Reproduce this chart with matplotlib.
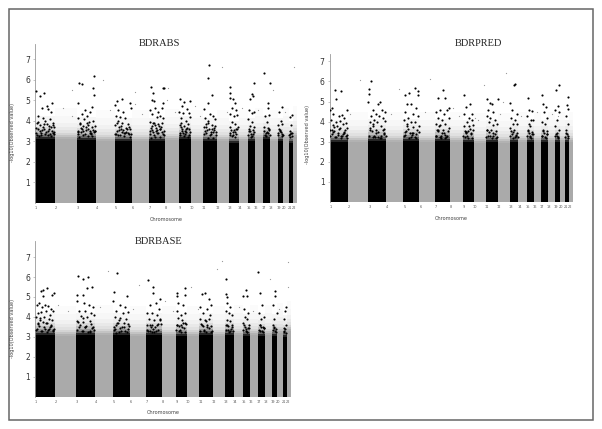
import matplotlib
matplotlib.use('Agg')
import matplotlib.pyplot as plt
from matplotlib.patches import Rectangle

W, H = 602, 429

# chromosome widths
chrom_len = [60, 66, 57, 56, 52, 51, 47, 43, 35, 38, 40, 38, 28, 27, 22, 25, 21, 22, 16, 17, 13, 12]
chrom_names = [str(i) for i in range(1, 23)]
y_ticks = [1, 2, 3, 4, 5, 6, 7]

# height of the solid part of each chromosome
abs_solid = [3.1, 3.1, 3.05, 3.0, 3.0, 3.0, 3.0, 3.05, 3.1, 3.0, 3.0, 3.0, 2.9, 3.0, 3.0, 3.1, 3.1, 3.0, 3.0, 3.1, 2.9, 3.2]
pred_solid = [3.0, 3.0, 3.05, 3.0, 3.05, 3.0, 3.05, 3.0, 3.0, 2.95, 3.0, 2.95, 3.0, 3.0, 3.0, 3.0, 3.0, 3.0, 3.0, 3.0, 3.0, 3.0]
base_solid = [3.1, 3.05, 3.1, 3.1, 3.1, 3.05, 3.1, 3.05, 3.05, 3.05, 3.1, 3.05, 3.1, 3.1, 3.05, 3.1, 3.05, 3.1, 3.05, 3.2, 3.0, 3.3]

abs_x = [2, 15, 28, 20, 35, 40, 52, 48, 10, 25, 30, 45, 5, 15, 35, 55, 8, 22, 42, 50, 58, 18, 30, 3, 38, 47, 56, 12,
         131, 141, 178, 175, 178, 130, 150, 165, 172, 140, 155, 130, 148, 162, 175, 135, 145, 158, 170, 180, 128, 138, 152, 165, 176, 145, 160, 132, 172,
         245, 262, 240, 285, 288, 250, 265, 243, 255, 270, 248, 262, 280, 240, 252, 272, 286, 245, 260, 278, 250, 268, 285,
         349, 354, 350, 358, 385, 360, 345, 368, 380, 352, 365, 375, 385, 346, 358, 370, 382, 350, 362, 378, 345, 355, 370, 386, 360, 375, 348, 385, 388,
         436, 448, 465, 442, 455, 433, 445, 462, 438, 452, 464, 434, 447, 458, 440, 452, 463, 435, 448, 460,
         522, 520, 530, 518, 508, 525, 535, 510, 520, 540, 514, 530, 506, 522, 538, 512, 528, 543, 518, 535,
         585, 584, 586, 594, 600, 590, 602, 585, 596, 606, 590, 600, 586, 604, 593, 584, 600,
         650, 655, 646, 642, 652, 658, 640, 650, 645, 656, 641, 653, 647, 658,
         686, 705, 698, 700, 690, 702, 695, 688, 700, 692, 704,
         740, 732, 738, 730, 742, 735, 730, 741,
         772, 765, 768, 764, 771, 766,
         # denser part just above the solid block
         6, 14, 24, 33, 43, 53, 4, 19, 28, 38, 49, 58, 10, 26, 44, 54,
         129, 137, 149, 159, 169, 179, 134, 144, 154, 164, 174, 128, 141, 156, 168, 181,
         243, 251, 259, 267, 275, 283, 247, 256, 264, 274, 282, 241, 258, 270, 288,
         344, 352, 360, 367, 374, 383, 348, 357, 365, 372, 380, 387, 354, 363, 376,
         434, 441, 449, 456, 464, 437, 445, 453, 461, 439, 450,
         507, 515, 524, 532, 541, 510, 519, 527, 536, 544, 513, 533,
         585, 591, 597, 603, 609, 588, 595, 601, 607,
         640, 646, 651, 657, 643, 649, 655,
         687, 693, 698, 703, 690, 696, 701,
         730, 735, 740, 733, 738, 743,
         763, 768, 772, 766]
abs_y = [5.45, 5.2, 5.35, 4.6, 4.7, 4.55, 4.85, 4.4, 4.2, 4.1, 4.0, 4.05, 3.9, 3.8, 3.85, 3.9, 3.6, 3.55, 3.6, 3.5, 3.7, 3.4, 3.35, 3.4, 3.3, 3.25, 3.35, 3.25,
         5.85, 5.78, 6.15, 5.6, 5.25, 4.85, 4.5, 4.4, 4.65, 4.3, 4.2, 4.1, 4.05, 3.95, 4.0, 3.85, 3.75, 3.8, 3.7, 3.75, 3.5, 3.45, 3.55, 3.5, 3.45, 3.3, 3.25, 3.2, 3.25,
         4.95, 5.05, 4.75, 4.85, 4.6, 4.5, 4.4, 4.2, 4.15, 4.1, 4.0, 3.9, 3.85, 3.8, 3.7, 3.65, 3.6, 3.5, 3.45, 3.4, 3.3, 3.25, 3.2,
         5.65, 5.35, 5.0, 4.95, 4.85, 4.6, 4.5, 4.4, 4.6, 4.3, 4.15, 4.2, 4.1, 3.95, 3.9, 3.85, 3.9, 3.75, 3.65, 3.7, 3.5, 3.45, 3.4, 3.5, 3.2, 3.2, 3.15, 5.57, 5.57,
         5.05, 4.9, 4.95, 4.7, 4.55, 4.4, 4.35, 4.35, 4.1, 4.0, 4.15, 3.8, 3.75, 3.85, 3.5, 3.45, 3.6, 3.3, 3.25, 3.2,
         6.7, 6.05, 5.25, 4.85, 4.55, 4.3, 4.2, 4.1, 4.0, 4.05, 3.85, 3.8, 3.7, 3.6, 3.55, 3.4, 3.35, 3.45, 3.15, 3.15,
         5.65, 5.35, 5.1, 5.05, 4.85, 4.6, 4.5, 4.3, 4.2, 4.25, 3.95, 3.85, 3.7, 3.6, 3.45, 3.3, 3.2,
         5.3, 5.2, 5.05, 4.5, 4.35, 4.4, 4.05, 3.95, 3.75, 3.7, 3.5, 3.35, 3.2, 5.85,
         6.3, 5.82, 4.85, 4.6, 4.2, 4.25, 3.95, 3.7, 3.65, 3.4, 3.3,
         4.65, 4.4, 4.0, 3.8, 3.85, 3.5, 3.3, 3.25,
         4.25, 4.15, 3.8, 3.5, 3.4, 3.2,
         3.3, 3.5, 3.7, 3.45, 3.75, 3.4, 3.65, 3.3, 3.85, 3.5, 3.7, 3.45, 3.95, 3.6, 3.35, 3.8,
         3.45, 3.65, 3.35, 3.6, 3.4, 3.5, 3.9, 3.5, 3.7, 3.4, 3.55, 3.35, 3.6, 3.9, 3.35, 3.5,
         3.35, 3.55, 3.75, 3.4, 3.6, 3.35, 3.9, 3.3, 3.55, 3.45, 3.7, 3.35, 3.6, 3.4, 3.35,
         3.35, 3.55, 3.8, 3.4, 3.6, 3.35, 3.65, 3.3, 3.55, 3.75, 3.45, 3.3, 3.9, 3.5, 3.6,
         3.4, 3.6, 3.35, 3.65, 3.45, 3.7, 3.4, 3.6, 3.3, 3.9, 3.5,
         3.35, 3.55, 3.3, 3.6, 3.75, 3.5, 3.9, 3.45, 3.65, 3.3, 3.7, 3.45,
         3.4, 3.25, 3.55, 3.35, 3.7, 3.55, 3.3, 3.45, 3.6,
         3.3, 3.5, 3.25, 3.45, 3.6, 3.35, 3.55,
         3.5, 3.25, 3.4, 3.55, 3.3, 3.45, 3.6,
         3.4, 3.55, 3.35, 3.6, 3.45, 3.3,
         3.3, 3.4, 3.25, 3.35]
abs_gray_x = [85, 110, 205, 225, 300, 320, 395, 420, 480, 495, 560, 575, 620, 670, 715, 778, 750, 110, 300, 400]
abs_gray_y = [4.6, 4.2, 6.0, 4.5, 4.8, 4.3, 5.0, 4.4, 4.7, 4.2, 6.6, 4.4, 4.6, 4.5, 5.5, 6.6, 4.4, 5.5, 5.4, 5.6]

pred_x = [18, 22, 37, 2, 8, 56, 40, 12, 30, 48, 5, 20, 35, 52, 10, 25, 44, 58, 3, 15, 32, 50, 8, 28, 42, 55,
          128, 128, 126, 135, 164, 158, 140, 170, 150, 180, 135, 160, 172, 145, 130, 155, 178, 140, 165, 132, 150, 175, 145, 168,
          275, 244, 257, 285, 287, 250, 265, 280, 245, 270, 255, 285, 242, 262, 278, 250, 270, 288, 245, 260, 280,
          366, 352, 372, 385, 358, 345, 370, 380, 350, 365, 388, 346, 358, 375, 350, 368, 385, 345, 360, 378,
          434, 455, 440, 462, 436, 450, 445, 460, 435, 452, 464, 440, 448, 458, 437,
          508, 519, 524, 544, 512, 530, 508, 520, 535, 515, 528, 542, 508, 522, 538, 512, 530,
          598, 600, 584, 590, 605, 587, 600, 592, 607, 585, 598, 590, 603,
          643, 646, 655, 640, 652, 658, 645, 650, 642, 655, 648,
          686, 690, 700, 695, 703, 688, 698, 692, 704, 688,
          743, 734, 738, 730, 742, 735, 730, 741, 736,
          773, 767, 770, 764, 772, 766, 770,
          # denser part just above the solid block
          3, 12, 22, 33, 43, 53, 7, 17, 27, 38, 48, 58, 14, 36, 46,
          128, 137, 147, 157, 167, 177, 132, 142, 152, 162, 172, 182, 140, 158, 176,
          241, 249, 258, 266, 275, 284, 245, 254, 262, 271, 280, 289, 250, 268,
          344, 352, 361, 370, 379, 348, 356, 365, 374, 384, 354, 372,
          433, 441, 449, 457, 464, 437, 445, 453, 461, 443,
          507, 516, 525, 534, 543, 511, 520, 529, 539,
          585, 592, 599, 606, 588, 595, 602, 609,
          640, 646, 652, 658, 643, 649, 655,
          687, 693, 699, 704, 690, 696, 702,
          730, 735, 740, 733, 738,
          763, 768, 772, 765]
pred_y = [5.55, 5.1, 5.5, 4.6, 4.7, 4.6, 4.35, 4.4, 4.3, 4.2, 4.1, 4.0, 4.05, 3.95, 3.85, 3.8, 3.9, 3.7, 3.6, 3.55, 3.65, 3.6, 3.4, 3.35, 3.3, 3.2,
          5.6, 5.35, 5.0, 6.0, 5.0, 4.9, 4.6, 4.6, 4.4, 4.5, 4.3, 4.3, 4.2, 4.1, 4.0, 4.0, 4.05, 3.8, 3.8, 3.6, 3.6, 3.65, 3.3, 3.3,
          5.65, 5.3, 5.4, 5.5, 5.3, 4.9, 4.9, 4.7, 4.5, 4.4, 4.2, 4.3, 4.1, 4.0, 4.0, 3.8, 3.75, 3.8, 3.5, 3.45, 3.4,
          5.55, 5.15, 5.15, 4.7, 4.6, 4.5, 4.4, 4.6, 4.2, 4.1, 4.2, 3.9, 3.85, 3.9, 3.6, 3.6, 3.7, 3.3, 3.3, 3.25,
          5.3, 4.9, 4.75, 4.4, 4.4, 4.2, 4.0, 4.1, 3.8, 3.8, 3.85, 3.5, 3.55, 3.45, 3.25,
          5.1, 4.95, 4.9, 5.1, 4.6, 4.5, 4.3, 4.2, 4.1, 4.0, 3.85, 3.9, 3.6, 3.6, 3.55, 3.3, 3.3,
          5.8, 5.85, 4.95, 4.6, 4.4, 4.2, 4.1, 3.9, 3.9, 3.7, 3.6, 3.4, 3.3,
          5.15, 4.6, 4.55, 4.3, 4.1, 4.1, 3.9, 3.8, 3.6, 3.5, 3.3,
          5.3, 4.9, 4.75, 4.5, 4.2, 4.0, 3.9, 3.6, 3.55, 3.3,
          5.8, 5.55, 4.8, 4.6, 4.5, 4.1, 3.8, 3.6, 3.3,
          5.2, 4.85, 4.65, 4.3, 3.9, 3.6, 3.3,
          3.3, 3.5, 3.25, 3.7, 3.4, 3.3, 3.6, 3.25, 3.45, 3.3, 3.5, 3.35, 3.75, 3.2, 3.45,
          3.3, 3.55, 3.25, 3.5, 3.2, 3.45, 3.7, 3.25, 3.45, 3.2, 3.6, 3.3, 3.9, 3.25, 3.4,
          3.3, 3.55, 3.2, 3.45, 3.25, 3.6, 3.35, 3.65, 3.25, 3.45, 3.2, 3.5, 3.9, 3.35,
          3.3, 3.55, 3.2, 3.45, 3.3, 3.6, 3.25, 3.45, 3.2, 3.55, 3.8, 3.35,
          3.3, 3.5, 3.2, 3.4, 3.6, 3.55, 3.3, 3.65, 3.2, 3.45,
          3.25, 3.5, 3.2, 3.4, 3.25, 3.6, 3.3, 3.45, 3.2,
          3.3, 3.5, 3.25, 3.45, 3.55, 3.2, 3.35, 3.25,
          3.3, 3.45, 3.2, 3.4, 3.55, 3.25, 3.4,
          3.3, 3.45, 3.2, 3.4, 3.55, 3.25, 3.4,
          3.3, 3.45, 3.2, 3.4, 3.25,
          3.25, 3.4, 3.2, 3.45]
pred_gray_x = [65, 100, 200, 225, 310, 325, 400, 420, 470, 500, 550, 570, 620, 670, 720, 740, 480, 560]
pred_gray_y = [4.4, 6.05, 4.4, 5.6, 4.5, 6.1, 4.7, 4.3, 4.2, 5.8, 4.4, 6.4, 4.3, 4.5, 4.4, 4.3, 4.1, 5.0]

base_x = [38, 17, 25, 58, 51, 26, 5, 12, 22, 30, 40, 48, 55, 8, 18, 35, 45, 3, 15, 28, 42, 52, 10, 25, 38, 50, 6, 32, 56,
          131, 148, 162, 174, 161, 128, 147, 130, 150, 165, 178, 135, 155, 172, 140, 160, 180, 128, 148, 168, 135, 155, 175,
          251, 242, 281, 240, 260, 275, 250, 270, 285, 245, 262, 280, 252, 272, 242, 262, 285, 250,
          348, 361, 361, 384, 352, 370, 380, 345, 358, 375, 350, 365, 385, 345, 360, 378, 352, 370,
          435, 460, 437, 460, 440, 455, 436, 448, 462, 440, 452, 435, 447, 460, 442,
          512, 522, 535, 539, 508, 528, 515, 538, 508, 522, 535, 512, 528, 540, 518,
          585, 586, 590, 588, 600, 585, 596, 606, 590, 600, 586, 604, 593,
          647, 639, 652, 642, 655, 645, 650, 640, 656, 648, 652,
          685, 692, 698, 688, 702, 695, 690, 700, 692,
          737, 737, 730, 742, 735, 730, 741,
          770, 767, 765, 770, 766,
          # denser part just above the solid block
          4, 13, 23, 34, 44, 54, 8, 18, 29, 39, 49, 59, 16, 36, 46,
          129, 138, 148, 158, 168, 178, 133, 143, 153, 163, 173, 182, 146, 170,
          242, 250, 259, 267, 276, 285, 246, 255, 263, 272, 281, 289, 257,
          344, 352, 360, 369, 378, 387, 347, 356, 365, 374, 383, 362,
          433, 441, 449, 457, 465, 437, 445, 453, 461, 451,
          507, 516, 525, 534, 543, 511, 520, 529, 539, 526,
          585, 592, 599, 606, 588, 595, 602, 609,
          640, 646, 652, 658, 643, 649, 655,
          687, 693, 699, 704, 690, 696, 702,
          730, 735, 740, 733, 738,
          763, 768, 772, 765]
base_y = [5.45, 5.3, 5.35, 5.2, 5.1, 5.05, 4.6, 4.7, 4.5, 4.6, 4.55, 4.4, 4.3, 4.2, 4.25, 4.3, 4.1, 4.0, 3.95, 4.0, 3.9, 3.85, 3.7, 3.75, 3.7, 3.6, 3.4, 3.4, 3.3,
          6.05, 5.9, 6.0, 5.5, 5.45, 5.1, 5.1, 4.8, 4.7, 4.6, 4.5, 4.3, 4.3, 4.2, 4.05, 4.0, 4.1, 3.8, 3.75, 3.8, 3.5, 3.5, 3.45,
          6.2, 5.25, 5.05, 4.8, 4.6, 4.5, 4.3, 4.2, 4.25, 4.0, 3.95, 3.9, 3.7, 3.7, 3.5, 3.45, 3.4, 3.2,
          5.85, 5.5, 5.2, 4.9, 4.6, 4.7, 4.4, 4.2, 4.2, 4.1, 3.9, 3.85, 3.9, 3.6, 3.6, 3.65, 3.3, 3.3,
          5.2, 5.45, 5.05, 5.1, 4.7, 4.6, 4.3, 4.1, 4.2, 3.95, 3.85, 3.6, 3.6, 3.7, 3.3,
          5.15, 5.2, 4.9, 4.6, 4.5, 4.4, 4.2, 4.1, 3.9, 3.85, 3.9, 3.6, 3.6, 3.55, 3.3,
          5.9, 5.15, 5.0, 4.7, 4.5, 4.3, 4.2, 4.1, 3.85, 3.8, 3.6, 3.6, 3.35,
          5.35, 5.05, 5.05, 4.4, 4.2, 4.0, 3.9, 3.7, 3.6, 3.4, 3.25,
          6.25, 5.2, 4.6, 4.2, 4.0, 3.9, 3.6, 3.5, 3.3,
          5.3, 5.05, 4.6, 4.2, 3.9, 3.6, 3.4,
          4.5, 4.3, 3.9, 3.6, 3.3,
          3.35, 3.55, 3.3, 3.7, 3.4, 3.35, 3.65, 3.3, 3.5, 3.35, 3.55, 3.4, 3.85, 3.25, 3.5,
          3.35, 3.6, 3.3, 3.55, 3.25, 3.5, 3.75, 3.3, 3.5, 3.25, 3.65, 3.35, 3.95, 3.3,
          3.35, 3.6, 3.25, 3.5, 3.3, 3.65, 3.4, 3.7, 3.3, 3.5, 3.25, 3.55, 3.85,
          3.35, 3.6, 3.25, 3.5, 3.35, 3.65, 3.3, 3.5, 3.25, 3.6, 3.85, 3.4,
          3.35, 3.55, 3.25, 3.45, 3.65, 3.6, 3.35, 3.7, 3.25, 3.5,
          3.3, 3.55, 3.25, 3.45, 3.3, 3.65, 3.35, 3.5, 3.25, 3.8,
          3.35, 3.55, 3.3, 3.5, 3.6, 3.25, 3.4, 3.3,
          3.35, 3.5, 3.25, 3.45, 3.6, 3.3, 3.45,
          3.35, 3.5, 3.25, 3.45, 3.6, 3.3, 3.45,
          3.35, 3.5, 3.25, 3.45, 3.3,
          3.25, 3.4, 3.2, 3.45]
base_gray_x = [70, 100, 200, 225, 300, 320, 400, 425, 480, 500, 560, 575, 625, 670, 720, 777, 777, 750]
base_gray_y = [4.6, 4.3, 4.5, 6.3, 4.4, 5.6, 4.8, 4.3, 5.5, 4.4, 6.4, 6.8, 4.5, 4.3, 5.9, 5.5, 6.75, 4.4]

# fading above the solid part: (from, to, opacity) relative to the solid height
black_fade = [(0, 0.1, 0.85), (0.1, 0.2, 0.6), (0.2, 0.3, 0.4), (0.3, 0.45, 0.25), (0.45, 0.6, 0.15), (0.6, 0.8, 0.08), (0.8, 1.1, 0.04)]
gray_fade = [(0, 0.1, 0.9), (0.1, 0.2, 0.7), (0.2, 0.3, 0.5), (0.3, 0.45, 0.35), (0.45, 0.6, 0.25), (0.6, 0.8, 0.16), (0.8, 1.1, 0.09), (1.1, 1.5, 0.04)]

# title, pixel box, y top, label positions
panels = [
    dict(title='BDRABS', box=(35, 297, 44, 202.5), solid=abs_solid, x=abs_x, y=abs_y, gx=abs_gray_x, gy=abs_gray_y,
         title_xy=(159, 44), xlab_xy=(166, 220), ylab_xy=(13, 132), tick_y=208),
    dict(title='BDRPRED', box=(329.5, 572.5, 54, 202), solid=pred_solid, x=pred_x, y=pred_y, gx=pred_gray_x, gy=pred_gray_y,
         title_xy=(478, 44), xlab_xy=(451, 218), ylab_xy=(307, 134), tick_y=207),
    dict(title='BDRBASE', box=(35, 291, 241, 396.5), solid=base_solid, x=base_x, y=base_y, gx=base_gray_x, gy=base_gray_y,
         title_xy=(159, 242), xlab_xy=(163, 413), ylab_xy=(13, 328), tick_y=402),
]
units = [20.5, 20.1, 19.9]


def draw_panel(p, unit):
    l, r, t, b = p['box']
    ax = fig.add_axes([l / W, 1 - b / H, (r - l) / W, (b - t) / H])
    ax.set_xlim(0, sum(chrom_len))
    ax.set_ylim(0, (b - t) / unit)
    start = 0
    starts = []
    for i, width in enumerate(chrom_len):
        starts.append(start)
        col = 'black' if i % 2 == 0 else '#aaaaaa'
        fade = black_fade if i % 2 == 0 else gray_fade
        h = p['solid'][i]
        ax.bar(start, h, width=width, align='edge', color=col, linewidth=0)
        for lo, hi, op in fade:
            ax.bar(start, hi - lo, bottom=h + lo, width=width, align='edge', color=col, alpha=op, linewidth=0)
        start += width
    ax.scatter(p['gx'], p['gy'], s=0.8, color='#999999', linewidths=0, zorder=3)
    ax.scatter(p['x'], p['y'], s=2.4, color='black', linewidths=0, zorder=4)
    for s in ['top', 'right', 'bottom']:
        ax.spines[s].set_visible(False)
    ax.spines['left'].set_color('#999999')
    ax.spines['left'].set_linewidth(0.6)
    ax.set_yticks(y_ticks)
    ax.tick_params(axis='y', labelsize=5.5, length=1.5, width=0.4, color='#999999', labelcolor='#333333', pad=2)
    ax.set_xticks([])
    # chromosome numbers sit below the start of each chromosome
    for st, name in zip(starts, chrom_names):
        fig.text((l + st * (r - l) / sum(chrom_len) + 1) / W, 1 - p['tick_y'] / H, name, fontsize=2.5,
                 color='#555555', ha='center', va='center')
    fig.text(p['title_xy'][0] / W, 1 - p['title_xy'][1] / H, p['title'], family='Liberation Serif', fontsize=7.5,
             ha='center', va='center', color='#222222')
    fig.text(p['xlab_xy'][0] / W, 1 - p['xlab_xy'][1] / H, 'Chromosome', fontsize=3.6, color='#444444',
             ha='center', va='center')
    fig.text(p['ylab_xy'][0] / W, 1 - p['ylab_xy'][1] / H, '-log10(Observed value)', fontsize=3.6, color='#444444',
             rotation=90, ha='center', va='center')


fig = plt.figure(figsize=(W / 100, H / 100), dpi=100)
fig.add_artist(Rectangle((9 / W, 1 - 420 / H), 584 / W, 411.5 / H, transform=fig.transFigure, fill=False,
                         edgecolor='#666666', linewidth=1.1))
for p, u in zip(panels, units):
    draw_panel(p, u)

fig.savefig('out.png', dpi=100)
